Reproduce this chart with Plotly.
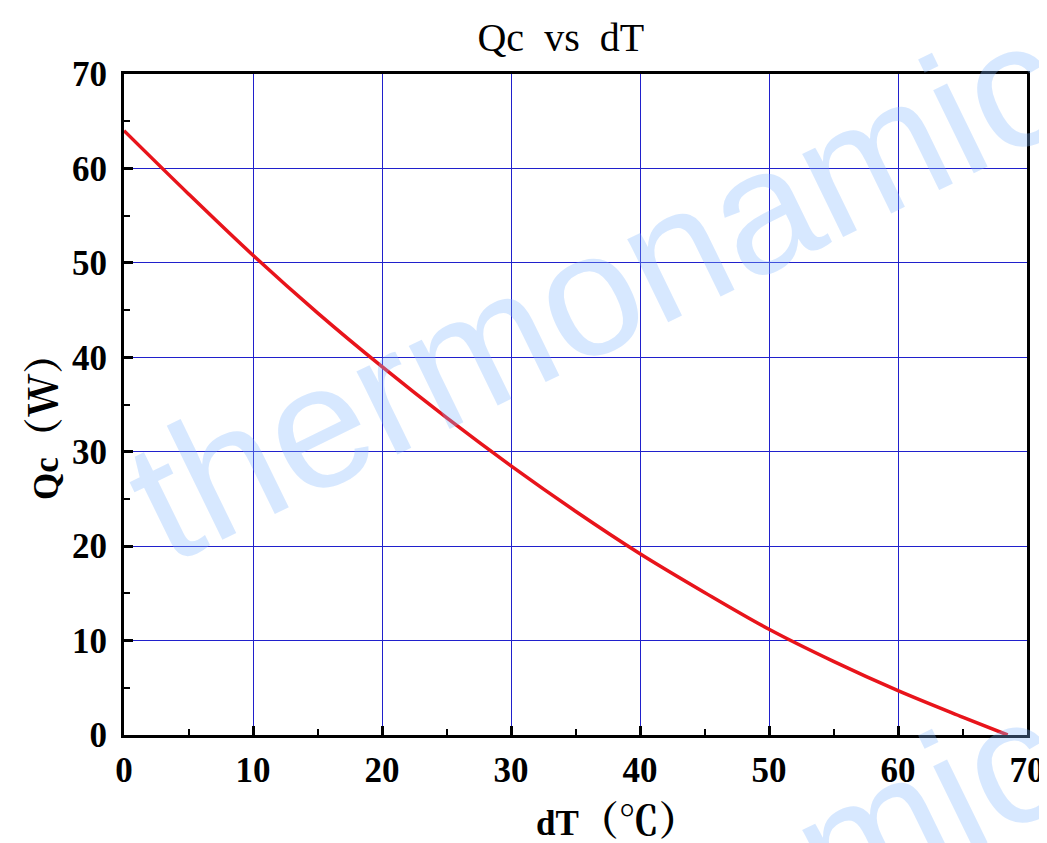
import plotly.graph_objects as go

dT = [0, 5, 10, 15, 20, 25, 30, 35, 40, 45, 50, 55, 60, 65, 68.5]
Qc = [64.0, 57.3, 50.8, 44.7, 39.0, 33.6, 28.5, 23.7, 19.2, 15.1, 11.2, 7.8, 4.7, 1.9, 0.0]

x_ticks = [0, 10, 20, 30, 40, 50, 60, 70]
y_ticks = [0, 10, 20, 30, 40, 50, 60, 70]

FONT = "Liberation Serif"
CJK = "font-family:Noto Serif CJK SC, Noto Sans CJK SC;font-size:40px"
GRID = "#2020CC"
WM = "rgba(130,185,255,0.32)"

fig = go.Figure()
fig.add_trace(go.Scatter(x=dT, y=Qc, mode="lines", line=dict(color="#E8141B", width=3.5, shape="spline"),
                         showlegend=False))

axis_common = dict(
    showline=True, linecolor="black", linewidth=3, mirror=True,
    ticks="inside", ticklen=9, tickwidth=3, tickcolor="black",
    showgrid=True, gridcolor=GRID, gridwidth=1, zeroline=False,
    automargin=False,
    tickfont=dict(family=FONT, size=35, color="black", weight="bold"),
    minor=dict(ticks="inside", dtick=5, ticklen=6, tickwidth=2, tickcolor="black", showgrid=False),
)

fig.update_layout(
    width=1047, height=843,
    margin=dict(l=116, r=28, t=66, b=116, autoexpand=False),
    plot_bgcolor="white", paper_bgcolor="white",
    title=dict(text="Qc\u2002vs\u2002dT", x=0.528, xanchor="center", y=0.966, yanchor="middle",
               font=dict(family=FONT, size=40, color="black"), automargin=False),
    xaxis=dict(range=[0, 70], tickvals=x_ticks, ticktext=[str(v) for v in x_ticks],
               ticklabelstandoff=2, **axis_common),
    yaxis=dict(range=[0, 70], tickvals=y_ticks, ticktext=[str(v) for v in y_ticks],
               ticklabelstandoff=7, **axis_common),
)

fig.add_annotation(text="<b>dT<span style='" + CJK + "'>（℃）</span></b>", xref="paper", yref="paper",
                   x=0.546, y=-0.125, xanchor="center", yanchor="middle", showarrow=False,
                   font=dict(family=FONT, size=35, color="black"))
fig.add_annotation(text="<b>Qc<span style='" + CJK + "'>（W）</span></b>", xref="paper", yref="paper",
                   x=-0.093, y=0.481, xanchor="center", yanchor="middle", showarrow=False, textangle=-90,
                   font=dict(family=FONT, size=35, color="black"))

fig.add_annotation(text="thermonamic", xref="paper", yref="paper", x=0.522, y=0.673,
                   xanchor="center", yanchor="middle", showarrow=False, textangle=-26,
                   font=dict(family="Liberation Sans", size=175, color=WM))
fig.add_annotation(text="thermonamic", xref="paper", yref="paper", x=0.522, y=-0.35,
                   xanchor="center", yanchor="middle", showarrow=False, textangle=-26,
                   font=dict(family="Liberation Sans", size=175, color=WM))

fig.write_html("out.html")
